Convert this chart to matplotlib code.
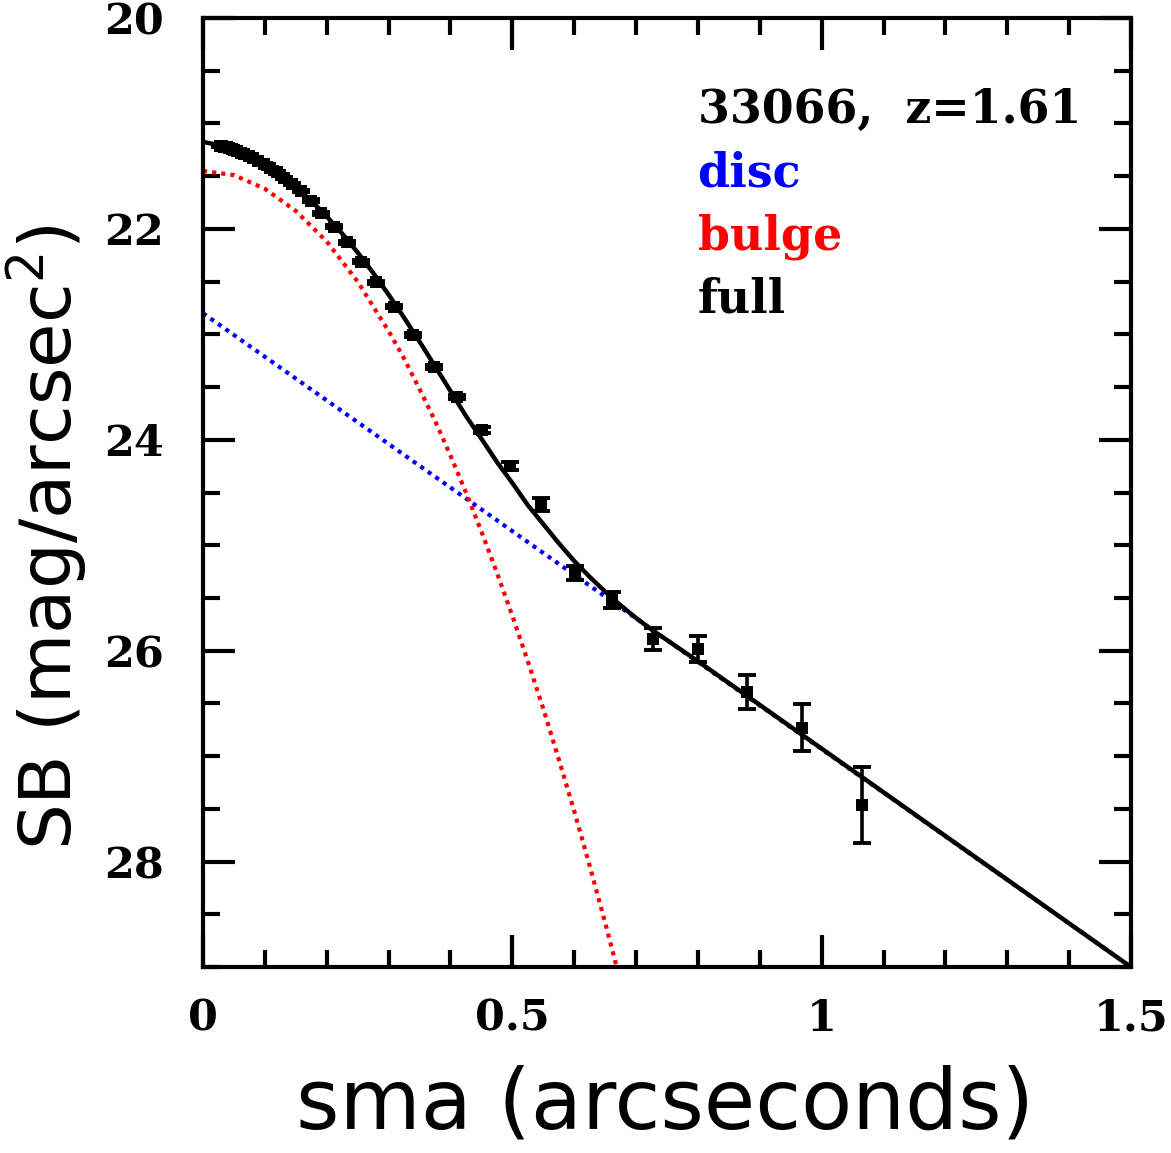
import matplotlib
matplotlib.use("Agg")
import matplotlib.pyplot as plt
from matplotlib.ticker import MultipleLocator, FixedLocator

# ---- data ----
sma = [0.028, 0.031, 0.034, 0.038, 0.042, 0.046, 0.050, 0.055, 0.061, 0.067,
       0.074, 0.081, 0.089, 0.098, 0.108, 0.119, 0.131, 0.144, 0.158, 0.174,
       0.191, 0.211, 0.232, 0.255, 0.280, 0.308, 0.339, 0.373, 0.410, 0.451,
       0.497, 0.546, 0.601, 0.661, 0.727, 0.800, 0.880, 0.968, 1.065]
sb = [21.21, 21.215, 21.22, 21.228, 21.235, 21.243, 21.252, 21.263, 21.277, 21.292,
      21.311, 21.332, 21.357, 21.387, 21.423, 21.465, 21.516, 21.575, 21.644, 21.733,
      21.852, 21.979, 22.127, 22.311, 22.507, 22.738, 23.006, 23.307, 23.597, 23.907,
      24.246, 24.612, 25.266, 25.52, 25.89, 25.984, 26.389, 26.73, 27.463]
sb_err = [0.01] * 19 + [0.015] * 8 + [0.02, 0.02, 0.025,
          0.04, 0.063, 0.068, 0.076, 0.106, 0.12, 0.16, 0.22, 0.36]

# model curves
full_x = [0.0, 0.025, 0.05, 0.075, 0.10, 0.125, 0.15, 0.175, 0.20, 0.225, 0.25,
          0.275, 0.30, 0.325, 0.35, 0.375, 0.40, 0.425, 0.45, 0.475, 0.50,
          0.525, 0.55, 0.575, 0.60, 0.625, 0.65, 0.675, 0.70, 0.725, 0.75,
          0.80, 1.50]
full_y = [21.175, 21.205, 21.252, 21.314, 21.394, 21.49, 21.605, 21.734, 21.882,
          22.046, 22.224, 22.418, 22.624, 22.842, 23.069, 23.302, 23.538, 23.774,
          23.99, 24.21, 24.41, 24.62, 24.80, 24.98, 25.15, 25.30, 25.44, 25.57,
          25.69, 25.80, 25.90, 26.10, 29.0]
bulge_x = [0.0, 0.05, 0.10, 0.15, 0.20, 0.25, 0.30, 0.325, 0.35, 0.375, 0.40,
           0.425, 0.45, 0.475, 0.50, 0.525, 0.55, 0.575, 0.60, 0.625, 0.65, 0.675]
bulge_y = [21.45, 21.49, 21.62, 21.83, 22.12, 22.50, 22.97, 23.23, 23.52, 23.82,
           24.15, 24.50, 24.87, 25.26, 25.67, 26.10, 26.55, 27.03, 27.52, 28.04,
           28.58, 29.14]
disc_x = [0.0, 1.5]
disc_y = [22.80, 29.0]

xticks = [0, 0.5, 1, 1.5]
xticklabels = ["0", "0.5", "1", "1.5"]
yticks = [20, 22, 24, 26, 28]
yticklabels = ["20", "22", "24", "26", "28"]

title_txt = "33066,  z=1.61"
legend_txt = ["disc", "bulge", "full"]
legend_col = ["#0000ff", "#ff0000", "#000000"]

# ---- figure ----
fig = plt.figure(figsize=(11.71, 11.53), dpi=100)
ax = fig.add_axes([0.1734, 0.1613, 0.9658 - 0.1734, 0.9844 - 0.1613])

ax.plot(disc_x, disc_y, color="#0000ff", lw=3.0, linestyle=(0, (1.0, 1.2)))
ax.plot(bulge_x, bulge_y, color="#ff0000", lw=3.0, linestyle=(0, (1.0, 1.2)))
ax.plot(full_x, full_y, color="black", lw=3.2, solid_joinstyle="round")
ax.errorbar(sma, sb, yerr=sb_err, fmt="none", ecolor="black",
            elinewidth=2.6, capsize=6.2, capthick=2.8)
ax.plot(sma, sb, "s", color="black", ms=8, mew=0, linestyle="none")

ax.set_xlim(0, 1.5)
ax.set_ylim(29, 20)

ax.xaxis.set_major_locator(FixedLocator(xticks))
ax.xaxis.set_minor_locator(MultipleLocator(0.1))
ax.yaxis.set_major_locator(FixedLocator(yticks))
ax.yaxis.set_minor_locator(MultipleLocator(0.5))
ax.set_xticklabels(xticklabels)
ax.set_yticklabels(yticklabels)

for s in ax.spines.values():
    s.set_linewidth(3.0)
ax.tick_params(which="both", direction="in", top=True, right=True, width=3.0)
ax.tick_params(which="major", length=23)
ax.tick_params(which="minor", length=12)
ax.tick_params(axis="x", which="major", pad=22)
ax.tick_params(axis="y", which="major", pad=28)
for lab in ax.get_xticklabels() + ax.get_yticklabels():
    lab.set_fontfamily("DejaVu Serif")
    lab.set_fontweight("bold")
    lab.set_fontsize(31)

ax.set_xlabel("sma (arcseconds)", fontsize=60, family="DejaVu Sans")
ax.set_ylabel("SB (mag/arcsec$^2$)", fontsize=52, family="DejaVu Sans")
ax.xaxis.set_label_coords(0.498, -0.145)
ax.yaxis.set_label_coords(-0.167, 0.453)
ax.xaxis.label.set_va("center")
ax.yaxis.label.set_va("center")

y0 = 0.903
for i, (t, c) in enumerate([(title_txt, "black")] + list(zip(legend_txt, legend_col))):
    ax.text(0.533, y0 - i * 0.0667, t, transform=ax.transAxes, fontsize=33,
            family="DejaVu Serif", fontweight="bold", color=c, va="center")

fig.savefig("out.png", dpi=100)
